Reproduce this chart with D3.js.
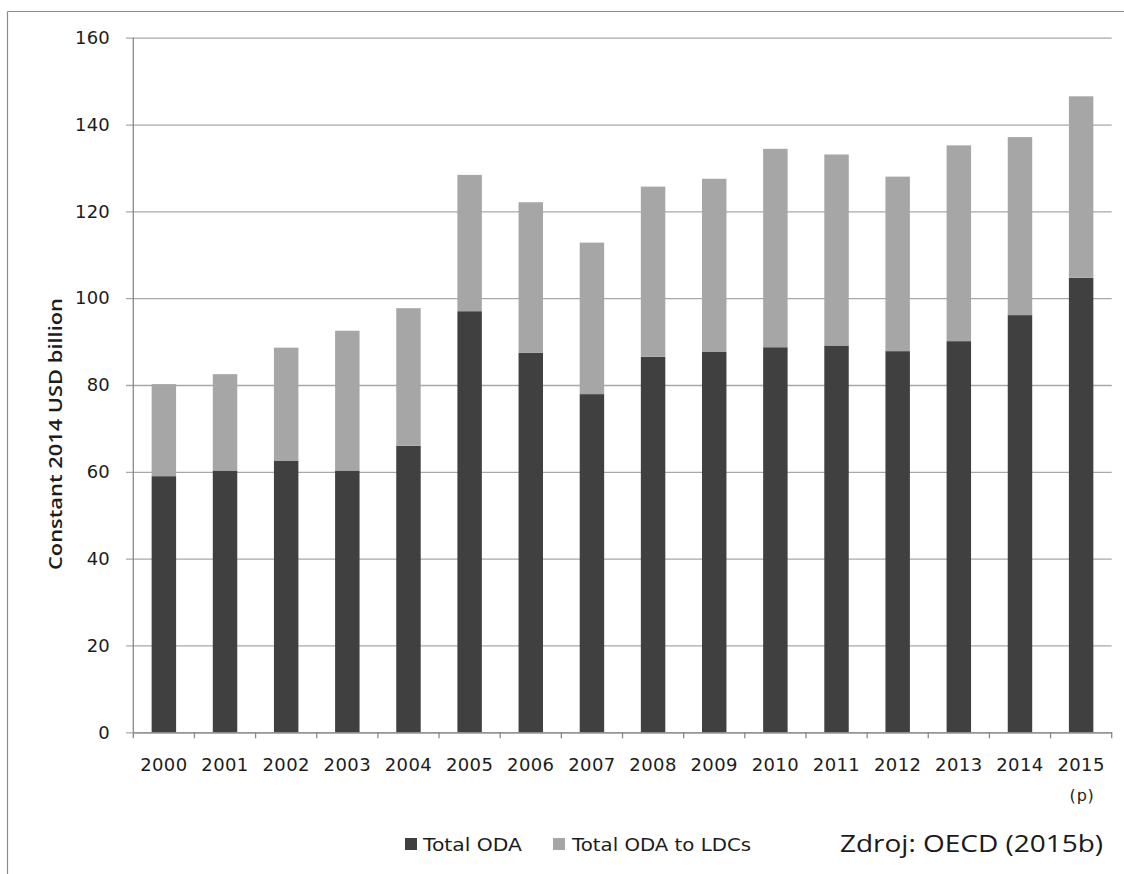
<!DOCTYPE html>
<html>
<head>
<meta charset="utf-8">
<script src="https://cdn.jsdelivr.net/npm/d3@7"></script>
<style>
  html, body { margin: 0; padding: 0; background: #fff; }
  svg { display: block; }
</style>
</head>
<body>
<svg id="chart" width="1124" height="874"></svg>
<script>
// ---- data ----
const years = ["2000","2001","2002","2003","2004","2005","2006","2007","2008","2009","2010","2011","2012","2013","2014","2015"];
const tickNotes = {"2015": "(p)"};
const totalODA = [59.0, 60.3, 62.6, 60.3, 66.0, 97.0, 87.4, 77.9, 86.5, 87.6, 88.7, 89.1, 87.8, 90.1, 96.1, 104.7];
const odaToLDCs = [21.2, 22.2, 26.0, 32.2, 31.7, 31.4, 34.7, 34.9, 39.2, 39.9, 45.7, 44.0, 40.2, 45.1, 41.0, 41.8];
const yTicks = [0, 20, 40, 60, 80, 100, 120, 140, 160];
const seriesNames = ["Total ODA", "Total ODA to LDCs"];
const yTitle = "Constant 2014 USD billion";
const sourceText = "Zdroj: OECD (2015b)";

// ---- layout ----
const svg = d3.select("#chart");
const plotL = 133.3, plotR = 1111.7, plotT = 37.7, plotB = 732.3;
const colors = ["#404040", "#a6a6a6"];
const textColor = "#1c1c1c";
const tickFont = "'DejaVu Sans', Verdana, sans-serif";

// frame
svg.append("line").attr("x1", 7.5).attr("x2", 1124).attr("y1", 11.5).attr("y2", 11.5)
  .attr("stroke", "#8c8c8c").attr("stroke-width", 1.2);
svg.append("line").attr("x1", 7.5).attr("x2", 7.5).attr("y1", 11.5).attr("y2", 874)
  .attr("stroke", "#8c8c8c").attr("stroke-width", 1.2);

const x = d3.scaleBand().domain(years).range([plotL, plotR]).paddingInner(0.6).paddingOuter(0.3);
const y = d3.scaleLinear().domain([0, 160]).range([plotB, plotT]);

// gridlines + y labels
const gridX0 = 126;
const yAxis = d3.axisLeft(y).tickValues(yTicks).tickSizeInner(-(plotR - gridX0)).tickSizeOuter(0).tickPadding(16);
const yg = svg.append("g").attr("transform", `translate(${gridX0},0)`).call(yAxis);
yg.select(".domain").remove();
yg.selectAll(".tick line").attr("stroke", "#a8a8a8").attr("stroke-width", 1.3);
yg.selectAll(".tick text").attr("fill", textColor).style("font-family", tickFont)
  .style("font-size", "18px").style("letter-spacing", "0.2px");

// stacked bars
const stackData = years.map((yr, i) => ({ year: yr, a: totalODA[i], b: odaToLDCs[i] }));
const stacked = d3.stack().keys(["a", "b"])(stackData);
svg.append("g").selectAll("g").data(stacked).join("g")
  .attr("fill", (d, i) => colors[i])
  .selectAll("rect").data(d => d).join("rect")
  .attr("x", d => x(d.data.year))
  .attr("width", x.bandwidth())
  .attr("y", d => y(d[1]))
  .attr("height", d => y(d[0]) - y(d[1]));

// y axis line
svg.append("line").attr("x1", plotL).attr("x2", plotL).attr("y1", plotT).attr("y2", plotB)
  .attr("stroke", "#888").attr("stroke-width", 1.3);

// x axis
const xAxis = d3.axisBottom(x).tickSize(0).tickPadding(0).tickFormat("");
const xg = svg.append("g").attr("transform", `translate(0,${plotB})`).call(xAxis);
xg.select(".domain").attr("stroke", "#888").attr("stroke-width", 1.3);
const half = (x.step() - x.bandwidth()) / 2;
const bounds = years.map(d => x(d) - half).concat([x(years[years.length - 1]) + x.bandwidth() + half]);
xg.selectAll("line.bound").data(bounds).join("line").attr("class", "bound")
  .attr("x1", d => d).attr("x2", d => d).attr("y1", 0).attr("y2", 6)
  .attr("stroke", "#888").attr("stroke-width", 1.3);
xg.selectAll("text.lbl").data(years).join("text").attr("class", "lbl")
  .attr("x", d => x(d) + x.bandwidth() / 2).attr("y", 39)
  .attr("text-anchor", "middle").attr("fill", textColor)
  .style("font-family", tickFont).style("font-size", "18px").style("letter-spacing", "0.4px")
  .text(d => d);
xg.selectAll("text.note").data(years.filter(d => tickNotes[d])).join("text").attr("class", "note")
  .attr("x", d => x(d) + x.bandwidth() / 2 + 1).attr("y", 69)
  .attr("text-anchor", "middle").attr("fill", textColor)
  .style("font-family", tickFont).style("font-size", "16px").style("letter-spacing", "0.8px")
  .text(d => tickNotes[d]);

// y title
svg.append("text")
  .attr("transform", "translate(62,434) rotate(-90)")
  .attr("text-anchor", "middle").attr("fill", textColor)
  .style("font-family", "'Open Sans', sans-serif").style("font-weight", 600).style("font-size", "18px")
  .attr("textLength", 272).attr("lengthAdjust", "spacingAndGlyphs")
  .text(yTitle);

// legend
const legendX = [405, 553];
const legendLen = [99, 179];
const lg = svg.append("g").selectAll("g").data(seriesNames).join("g")
  .attr("transform", (d, i) => `translate(${legendX[i]},838)`);
lg.append("rect").attr("width", 12).attr("height", 12).attr("fill", (d, i) => colors[i]);
lg.append("text").attr("x", (d, i) => i === 0 ? 18 : 19).attr("y", 12.5)
  .attr("fill", textColor)
  .style("font-family", tickFont).style("font-size", "18px")
  .attr("textLength", (d, i) => legendLen[i]).attr("lengthAdjust", "spacingAndGlyphs")
  .text(d => d);

// source
svg.append("text").attr("x", 840).attr("y", 852)
  .attr("fill", "#1a1a1a")
  .style("font-family", "'Open Sans', sans-serif").style("font-size", "24px")
  .attr("textLength", 263).attr("lengthAdjust", "spacingAndGlyphs")
  .text(sourceText);
</script>
</body>
</html>
